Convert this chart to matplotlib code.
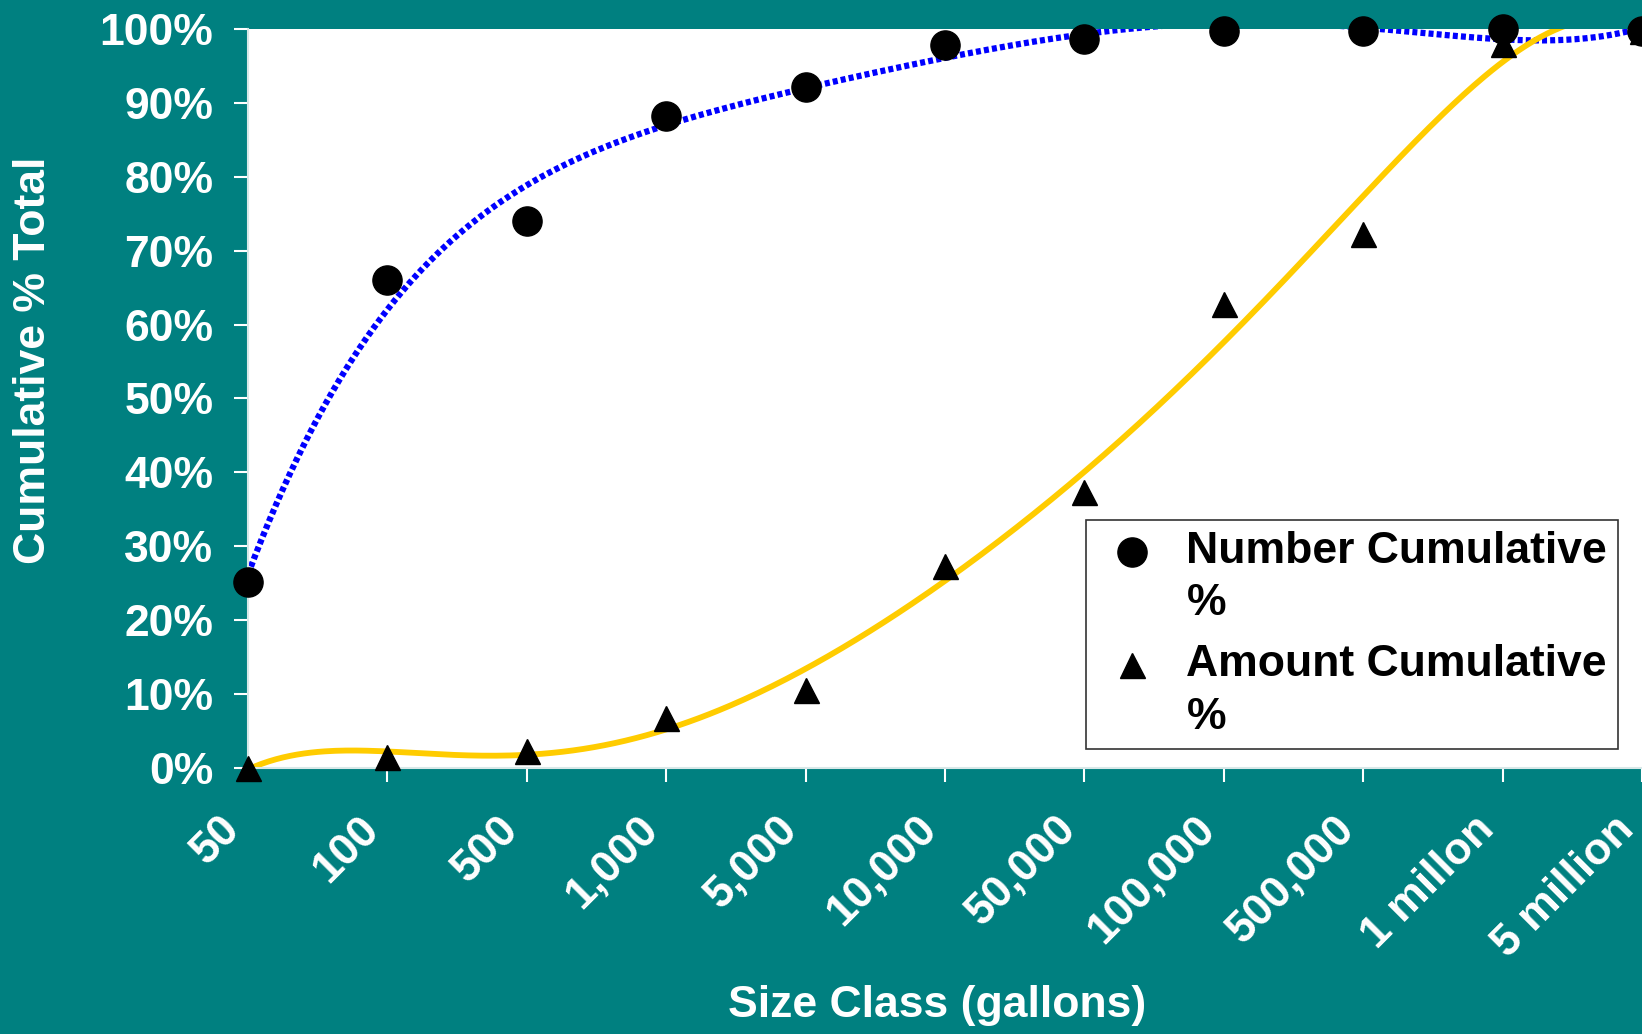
import numpy as np
import matplotlib.pyplot as plt
from matplotlib.lines import Line2D
from matplotlib.legend_handler import HandlerLine2D

plt.rcParams['font.family'] = ['Liberation Sans', 'DejaVu Sans']
plt.rcParams['font.weight'] = 'bold'

# data
size_classes = ['50', '100', '500', '1,000', '5,000', '10,000', '50,000',
                '100,000', '500,000', '1 millon', '5 million']
number_cum = [25.2, 66.0, 74.0, 88.2, 92.2, 97.9, 98.7, 99.7, 99.7, 100.0, 99.7]
amount_cum = [0.0, 1.5, 2.3, 6.7, 10.6, 27.4, 37.4, 62.8, 72.2, 98.0, 99.7]

teal = '#008080'
fig = plt.figure(figsize=(16.42, 10.34), dpi=100, facecolor=teal)
ax = fig.add_axes([248/1642, 266/1034, 1394/1642, 739/1034])
ax.set_facecolor('white')

x = np.arange(len(size_classes))

# polynomial trendlines, like the spreadsheet's
xs = np.linspace(0, len(size_classes) - 1, 400)
p_num = np.polyfit(x, number_cum, 5)
p_amt = np.polyfit(x, amount_cum, 6)
ax.plot(xs, np.polyval(p_num, xs), color='#0000FF', lw=4.5,
        linestyle=(0, (0.8, 0.5)), dash_capstyle='butt', zorder=2)
ax.plot(xs, np.polyval(p_amt, xs), color='#FFCC00', lw=4.2, zorder=2)

ax.plot(x, number_cum, 'o', color='black', ms=21, clip_on=False, zorder=4)
ax.plot(x, amount_cum, '^', color='black', ms=18, clip_on=False, zorder=3)

ax.set_xlim(0, len(size_classes) - 1)
ax.set_ylim(0, 100)
ax.set_yticks(np.arange(0, 101, 10))
ax.set_yticklabels([f'{v}%' for v in range(0, 101, 10)])
ax.set_xticks(x)
ax.set_xticklabels(size_classes, rotation=45, ha='right', va='bottom',
                   rotation_mode='anchor')

ax.tick_params(axis='both', colors='white', labelsize=32, width=1.5)
ax.tick_params(axis='y', length=10, pad=15)
ax.tick_params(axis='x', length=10, pad=40)

for side in ['top', 'right']:
    ax.spines[side].set_visible(False)
for side in ['left', 'bottom']:
    ax.spines[side].set_color('#d8e8e8')
    ax.spines[side].set_linewidth(1.5)

ax.set_ylabel('Cumulative % Total', color='white', fontsize=32,
              fontweight='bold', va='center')
ax.yaxis.set_label_coords((33 - 248) / 1394, (768 - 360) / 739)
ax.set_xlabel('Size Class (gallons)', color='white', fontsize=32,
              fontweight='bold', va='center')
ax.xaxis.set_label_coords((937 - 248) / 1394, (768 - 1005) / 739)


class FirstLineHandler(HandlerLine2D):
    # put the marker next to the first line of a two-line label
    def create_artists(self, legend, orig_handle, xdescent, ydescent,
                       width, height, fontsize, trans):
        return super().create_artists(legend, orig_handle, xdescent,
                                      ydescent - 1.2 * fontsize, width,
                                      height, fontsize, trans)


handles = [Line2D([], [], marker='o', ls='none', color='black', ms=21),
           Line2D([], [], marker='^', ls='none', color='black', ms=18)]
leg = ax.legend(handles, ['Number Cumulative\n%', 'Amount Cumulative\n%'],
                handler_map={Line2D: FirstLineHandler()},
                loc='lower right', bbox_to_anchor=(0.983, 0.026),
                fontsize=32, frameon=True, fancybox=False, edgecolor='black',
                handlelength=1.58, handletextpad=0.43, borderpad=0.25,
                labelspacing=0.45, borderaxespad=0)
leg.get_frame().set_linewidth(1.2)
for t in leg.get_texts():
    t.set_color('black')
    t.set_linespacing(1.35)

fig.savefig('out.png', dpi=100, facecolor=teal)
